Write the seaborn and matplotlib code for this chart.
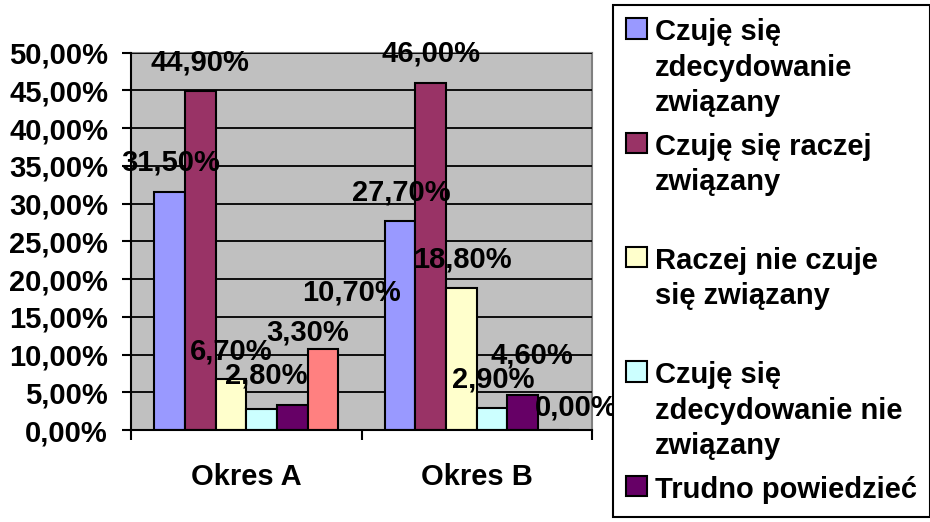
import numpy as np
import pandas as pd
import matplotlib
matplotlib.use("Agg")
import matplotlib.pyplot as plt
from matplotlib.ticker import FuncFormatter, FixedLocator
import seaborn as sns

# data
periods = ["Okres A", "Okres B"]
series = ["Czuję się zdecydowanie związany",
          "Czuję się raczej związany",
          "Raczej nie czuje się związany",
          "Czuję się zdecydowanie nie związany",
          "Trudno powiedzieć",
          "Brak odpowiedzi"]
okres_a = [31.5, 44.9, 6.7, 2.8, 3.3, 10.7]
okres_b = [27.7, 46.0, 18.8, 2.9, 4.6, 0.0]
legend_labels = ["Czuję się\nzdecydowanie\nzwiązany",
                 "Czuję się raczej\nzwiązany\n",
                 "Raczej nie czuje\nsię związany\n",
                 "Czuję się\nzdecydowanie nie\nzwiązany",
                 "Trudno powiedzieć"]
colors = ["#9999FF", "#993366", "#FFFFCC", "#CCFFFF", "#660066", "#FF8080"]
yticks = [0, 5, 10, 15, 20, 25, 30, 35, 40, 45, 50]

# label nudges (pixels) as placed in the original chart, per period / series
lab_dx = [[1, 0, 0, 5, 15, 28], [1, 0, 1, 1, 9, 23]]
lab_dy = [[22, 21, 20, 25, 65, 49], [20, 21, 21, 21, 32, 14]]

rows = []
for p, vals in zip(periods, [okres_a, okres_b]):
    for s, v in zip(series, vals):
        rows.append({"okres": p, "seria": s, "proc": v})
df = pd.DataFrame(rows)

sns.set_theme(style="white")
plt.rcParams["font.family"] = ["Liberation Sans", "DejaVu Sans"]
plt.rcParams["font.weight"] = "bold"
plt.rcParams["text.color"] = "black"
plt.rcParams["xtick.labelcolor"] = "black"
plt.rcParams["ytick.labelcolor"] = "black"
FS = 21

fig = plt.figure(figsize=(9.3, 5.22), dpi=100)
ax = fig.add_axes([131 / 930, 1 - 430 / 522, (592 - 131) / 930, (430 - 52.7) / 522])
ax.set_facecolor("#C0C0C0")

sns.barplot(data=df, x="okres", y="proc", hue="seria", hue_order=series,
            order=periods, palette=colors, saturation=1, width=0.8,
            edgecolor="black", linewidth=1.5, ax=ax)
ax.get_legend().remove()

ax.set_xlim(-0.5, 1.5)
ax.set_ylim(0, 50)
ax.set_yticks(yticks)
ax.yaxis.set_major_formatter(FuncFormatter(lambda y, _: f"{y:.2f}%".replace(".", ",")))
ax.tick_params(axis="y", direction="out", length=6.5, width=1.5, pad=10,
               labelsize=FS, left=True, color="black", labelcolor="black")
ax.set_axisbelow(True)
ax.yaxis.grid(True, color="black", linewidth=1.3)
ax.xaxis.grid(False)

# boundary ticks on x, labels between them
ax.xaxis.set_major_locator(FixedLocator([-0.5, 0.5, 1.5]))
ax.xaxis.set_minor_locator(FixedLocator([0, 1]))
ax.set_xticklabels(["", "", ""])
ax.set_xticks([0, 1], periods, minor=True)
ax.tick_params(axis="x", which="major", direction="out", length=7, width=1.5,
               bottom=True, color="black")
ax.tick_params(axis="x", which="minor", length=0, pad=23.5, labelsize=FS,
               labelcolor="black")
ax.set_xlabel("")
ax.set_ylabel("")

for side in ["left", "bottom"]:
    ax.spines[side].set_color("black")
    ax.spines[side].set_linewidth(1.5)
for side in ["top", "right"]:
    ax.spines[side].set_color("#808080")
    ax.spines[side].set_linewidth(1.5)
    ax.spines[side].set_zorder(0.5)

# value labels
for j, cont in enumerate(ax.containers):
    for i, bar in enumerate(cont.patches):
        v = bar.get_height()
        ax.annotate(f"{v:.2f}%".replace(".", ","),
                    xy=(bar.get_x() + bar.get_width() / 2, v),
                    xytext=(lab_dx[i][j], lab_dy[i][j]), textcoords="offset pixels",
                    ha="center", va="baseline", fontsize=FS, fontweight="bold",
                    color="black", annotation_clip=False, zorder=5)

# legend (first five series only, as in the original)
handles = [c.patches[0] for c in ax.containers][:5]
leg = fig.legend(handles, legend_labels, loc="upper left",
                 bbox_to_anchor=(613 / 930, 1 - 5 / 522), bbox_transform=fig.transFigure,
                 fontsize=FS, frameon=True, fancybox=False, framealpha=1,
                 edgecolor="black", borderpad=0.45, borderaxespad=0,
                 handlelength=0.7, handleheight=0.7, handletextpad=0.3,
                 labelspacing=0.53)
leg.get_frame().set_linewidth(1.5)
for t in leg.get_texts():
    t.set_linespacing(1.34)
    t.set_color("black")
for col in leg._legend_handle_box.get_children():
    for item in col.get_children():
        item.align = "top"

fig.savefig("out.png", dpi=100)
